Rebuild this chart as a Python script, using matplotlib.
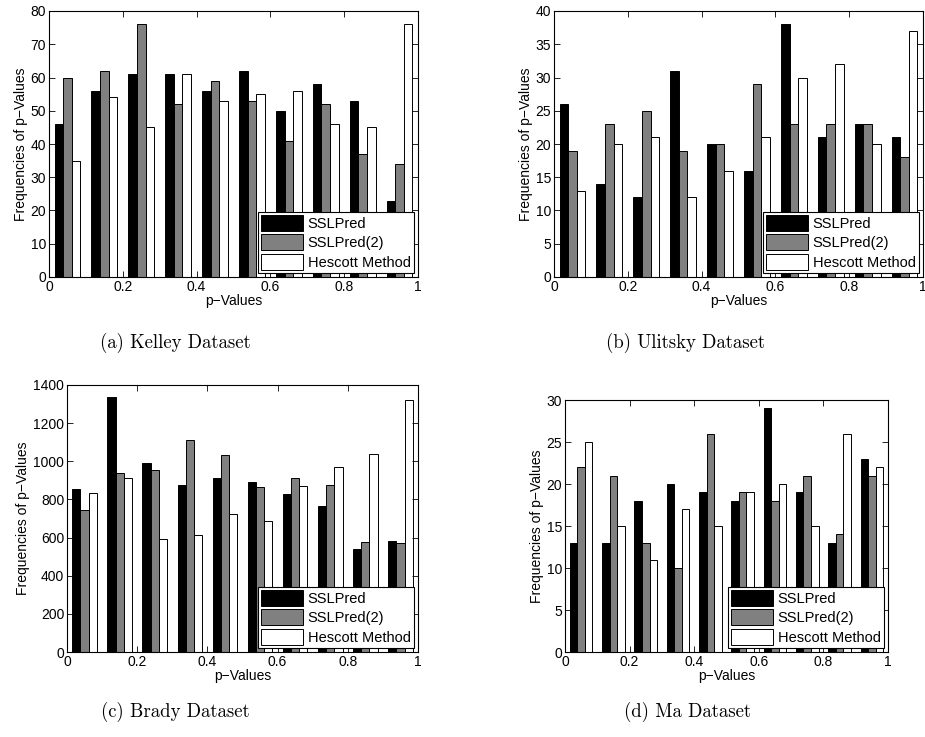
import matplotlib
matplotlib.use('Agg')
import matplotlib.pyplot as plt
import numpy as np

# ===============================================
# data
# ===============================================
bin_centers = [0.05, 0.15, 0.25, 0.35, 0.45, 0.55, 0.65, 0.75, 0.85, 0.95]
method_names = ['SSLPred', 'SSLPred(2)', 'Hescott Method']

kelley_sslpred = [46, 56, 61, 61, 56, 62, 50, 58, 53, 23]
kelley_sslpred2 = [60, 62, 76, 52, 59, 53, 41, 52, 37, 34]
kelley_hescott = [35, 54, 45, 61, 53, 55, 56, 46, 45, 76]

ulitsky_sslpred = [26, 14, 12, 31, 20, 16, 38, 21, 23, 21]
ulitsky_sslpred2 = [19, 23, 25, 19, 20, 29, 23, 23, 23, 18]
ulitsky_hescott = [13, 20, 21, 12, 16, 21, 30, 32, 20, 37]

brady_sslpred = [854, 1339, 990, 877, 913, 891, 831, 763, 539, 583]
brady_sslpred2 = [742, 936, 954, 1111, 1032, 863, 913, 875, 576, 572]
brady_hescott = [836, 913, 591, 616, 726, 688, 873, 971, 1040, 1320]

ma_sslpred = [13, 13, 18, 20, 19, 18, 29, 19, 13, 23]
ma_sslpred2 = [22, 21, 13, 10, 26, 19, 18, 21, 14, 21]
ma_hescott = [25, 15, 11, 17, 15, 19, 20, 15, 26, 22]

captions = ['(a) Kelley Dataset', '(b) Ulitsky Dataset',
            '(c) Brady Dataset', '(d) Ma Dataset']
y_limits = [80, 40, 1400, 30]
y_steps = [10, 5, 200, 5]

# ===============================================
# style
# ===============================================
plt.rcParams['font.family'] = ['Liberation Sans', 'DejaVu Sans']
plt.rcParams['font.size'] = 10
plt.rcParams['axes.unicode_minus'] = True

bar_colors = ['black', '#808080', 'white']
bar_width = 0.07 / 3

W, H = 925.0, 737.0
# axes boxes in pixels: left, right, top, bottom
boxes = [(49, 418, 11, 277), (554, 923, 11, 277),
         (67, 418, 385, 652), (565, 888, 400, 652)]
caption_pos = [(175, 343), (685, 343), (175, 712), (687, 712)]

datasets = [
    (kelley_sslpred, kelley_sslpred2, kelley_hescott),
    (ulitsky_sslpred, ulitsky_sslpred2, ulitsky_hescott),
    (brady_sslpred, brady_sslpred2, brady_hescott),
    (ma_sslpred, ma_sslpred2, ma_hescott),
]

fig = plt.figure(figsize=(W / 100, H / 100), dpi=100)

for k in range(4):
    l, r, t, b = boxes[k]
    ax = fig.add_axes([l / W, 1 - b / H, (r - l) / W, (b - t) / H])

    # grouped bars, one group per p-value bin
    x = np.array(bin_centers)
    for j, series in enumerate(datasets[k]):
        offset = (j - 1) * bar_width
        ax.bar(x + offset, series, width=bar_width, color=bar_colors[j],
               edgecolor='black', linewidth=0.7, label=method_names[j])

    ax.set_xlim(0, 1)
    ax.set_ylim(0, y_limits[k])
    ax.set_xticks(np.arange(0, 1.01, 0.2))
    ax.set_xticklabels(['0', '0.2', '0.4', '0.6', '0.8', '1'])
    ax.set_yticks(np.arange(0, y_limits[k] + 1, y_steps[k]))
    ax.tick_params(direction='in', top=True, right=True, length=4, width=0.6, pad=2)
    for sp in ax.spines.values():
        sp.set_linewidth(0.8)

    ax.set_xlabel('p\u2212Values', labelpad=0)
    ax.set_ylabel('Frequencies of p\u2212Values', labelpad=2)

    leg = ax.legend(loc='lower right', fancybox=False, edgecolor='black',
                    framealpha=1, borderaxespad=0.3, handlelength=2.9,
                    handleheight=1.3, handletextpad=0.3, borderpad=0.2,
                    labelspacing=0.25, fontsize=10.5)
    leg.get_frame().set_linewidth(0.8)

    cx, cy = caption_pos[k]
    fig.text(cx / W, 1 - cy / H, captions[k], ha='center', va='center',
             fontsize=13.5, family='cmr10')

fig.savefig('out.png', dpi=100)
